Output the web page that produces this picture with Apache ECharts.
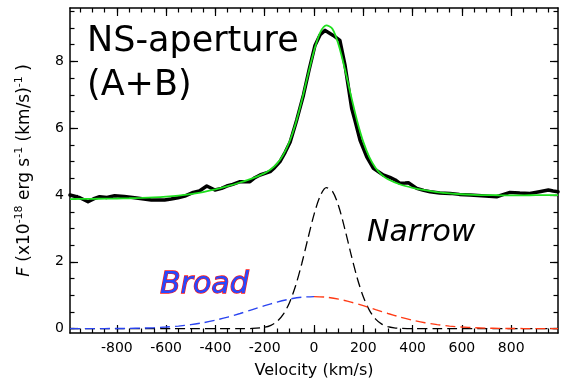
<!DOCTYPE html>
<html><head><meta charset="utf-8">
<script src="https://cdn.jsdelivr.net/npm/echarts@6/dist/echarts.min.js"></script>
<style>html,body{margin:0;padding:0;background:#fff}#c{width:568px;height:388px}</style>
</head><body><div id="c"></div>
<script>
// ---- axis ticks / labels ----
const xRange = [-990, 990];
const yRange = [-0.13, 9.6];
const xMajorTicks = [-800, -600, -400, -200, 0, 200, 400, 600, 800];
const xMinorTicks = [-950,-900,-850,-800,-750,-700,-650,-600,-550,-500,-450,-400,-350,-300,-250,-200,-150,-100,-50,0,
  50,100,150,200,250,300,350,400,450,500,550,600,650,700,750,800,850,900,950];
const yMajorTicks = [0, 2, 4, 6, 8];
const yMinorTicks = [0,0.5,1,1.5,2,2.5,3,3.5,4,4.5,5,5.5,6,6.5,7,7.5,8,8.5,9,9.5];

// ---- observed spectrum (black) ----
const obsVelocity = [-990,-950,-917,-890,-870,-840,-809,-770,-728,-690,-660,-630,-606,-580,-552,-520,-490,-465,-435,-402,
  -375,-354,-330,-300,-260,-240,-219,-178,-160,-138,-117,-97,-70,-43,-20,4,25,45,60,78,105,126,153,166,187,214,241,281,308,
  330,349,370,383,417,445,471,510,552,590,633,680,741,770,795,835,876,915,951,970,990];
const obsFlux = [4.00,3.92,3.80,3.90,3.95,3.93,3.98,3.96,3.92,3.88,3.85,3.85,3.85,3.88,3.92,3.98,4.08,4.12,4.27,4.15,
  4.20,4.27,4.32,4.40,4.40,4.52,4.60,4.70,4.82,5.00,5.28,5.58,6.25,6.99,7.75,8.48,8.80,8.93,8.86,8.78,8.63,7.88,6.59,6.24,5.64,5.14,4.80,4.60,4.53,
  4.45,4.35,4.36,4.37,4.20,4.14,4.10,4.06,4.05,4.02,4.00,3.98,3.95,4.02,4.08,4.06,4.05,4.10,4.15,4.12,4.10];

// ---- total fit (green) ----
const fitVelocity = [-990,-950,-900,-850,-800,-750,-700,-650,-600,-550,-500,-450,-400,-350,-300,-250,-200,-175,-150,-125,
  -100,-75,-50,-25,0,25,50,75,100,125,150,175,200,225,250,275,300,350,400,450,500,550,600,650,700,750,800,850,900,950,990];
const fitFlux = [3.881,3.883,3.887,3.891,3.897,3.904,3.914,3.929,3.952,3.984,4.030,4.091,4.169,4.265,4.376,4.501,4.658,4.774,4.942,5.202,
  5.588,6.129,6.814,7.582,8.314,8.866,9.080,8.973,8.494,7.780,6.977,6.220,5.593,5.130,4.811,4.605,4.472,4.316,4.218,4.145,4.090,4.050,4.024,4.007,3.998,3.994,3.993,3.993,3.995,3.997,3.999];

// ---- broad component (blue: v<=0, red: v>=0) ----
const broadBlueVelocity = [-990,-950,-900,-850,-800,-750,-700,-650,-600,-550,-500,-450,-400,-350,-300,-250,-200,-150,-100,-50,0];
const broadBlueFlux = [0.000,0.001,0.001,0.002,0.005,0.009,0.016,0.028,0.048,0.077,0.120,0.178,0.253,0.346,0.454,0.570,0.688,0.796,0.883,0.941,0.960];
const broadRedVelocity = [0,50,100,150,200,250,300,350,400,450,500,550,600,650,700,750,800,850,900,950,990];
const broadRedFlux = [0.960,0.941,0.883,0.796,0.688,0.570,0.454,0.346,0.253,0.178,0.120,0.077,0.048,0.028,0.016,0.009,0.005,0.002,0.001,0.001,0.000];

// ---- narrow component (black dashed) ----
const narrowVelocity = [-990,-500,-300,-250,-200,-175,-150,-125,-100,-75,-50,-25,0,25,50,75,100,125,150,175,200,225,250,275,300,325,350,400,500,990];
const narrowFlux = [0.000,0.000,0.000,0.006,0.042,0.100,0.215,0.426,0.771,1.277,1.936,2.688,3.414,3.969,4.222,4.112,3.665,2.989,2.232,1.525,0.953,0.546,0.286,0.137,0.060,0.024,0.009,0.001,0.000,0.000];

const zip = (xs, ys) => xs.map((x, i) => [x, ys[i]]);
const FONT = '"DejaVu Sans", sans-serif';

function xAx(pos, ticks, len, showLine, showLabel, extra) {
  return Object.assign({
    type: 'value', position: pos, min: xRange[0], max: xRange[1],
    axisLine: { show: showLine, onZero: false, lineStyle: { color: '#000', width: 1.5 } },
    axisTick: { show: true, inside: true, length: len, customValues: ticks, lineStyle: { color: '#000', width: 1.2 } },
    axisLabel: { show: showLabel, customValues: ticks, margin: 8, color: '#000', fontSize: 14, fontFamily: FONT },
    splitLine: { show: false }
  }, extra || {});
}
function yAx(pos, ticks, len, showLine, showLabel, extra) {
  return Object.assign({
    type: 'value', position: pos, min: yRange[0], max: yRange[1],
    axisLine: { show: showLine, onZero: false, lineStyle: { color: '#000', width: 1.5 } },
    axisTick: { show: true, inside: true, length: len, customValues: ticks, lineStyle: { color: '#000', width: 1.2 } },
    axisLabel: { show: showLabel, customValues: ticks, margin: 6, color: '#000', fontSize: 14, fontFamily: FONT },
    splitLine: { show: false }
  }, extra || {});
}

const chart = echarts.init(document.getElementById('c'), null, { renderer: 'canvas' });
chart.setOption({
  animation: false,
  backgroundColor: '#fff',
  grid: { left: 70, right: 10, top: 8, bottom: 55 },
  xAxis: [
    xAx('bottom', xMajorTicks, 8, true, true, {
      name: 'Velocity (km/s)', nameLocation: 'middle', nameGap: 30,
      nameTextStyle: { color: '#000', fontSize: 16, fontFamily: FONT }
    }),
    xAx('bottom', xMinorTicks, 4.5, false, false),
    xAx('top', xMajorTicks, 8, true, false),
    xAx('top', xMinorTicks, 4.5, false, false)
  ],
  yAxis: [
    yAx('left', yMajorTicks, 8, true, true, {
      name: '{i|F} (x10{s|-18} erg s{s|-1} (km/s){s|-1} )',
      nameLocation: 'middle', nameGap: 35,
      nameTextStyle: {
        color: '#000', fontSize: 17, fontFamily: FONT, lineHeight: 21,
        rich: {
          i: { fontStyle: 'italic', fontSize: 17, fontFamily: FONT, color: '#000', lineHeight: 21 },
          s: { fontSize: 11, fontFamily: FONT, color: '#000', lineHeight: 11, verticalAlign: 'top' }
        }
      }
    }),
    yAx('left', yMinorTicks, 4.5, false, false),
    yAx('right', yMajorTicks, 8, true, false),
    yAx('right', yMinorTicks, 4.5, false, false)
  ],
  series: [
    { type: 'line', name: 'Narrow', data: zip(narrowVelocity, narrowFlux), showSymbol: false, symbol: 'none', smooth: 0.3,
      lineStyle: { color: '#000', width: 1.3, type: [10, 5] }, z: 2 },
    { type: 'line', name: 'BroadBlue', data: zip(broadBlueVelocity, broadBlueFlux), showSymbol: false, symbol: 'none', smooth: 0.3,
      lineStyle: { color: '#2a44f0', width: 1.4, type: [10, 5] }, z: 3 },
    { type: 'line', name: 'BroadRed', data: zip(broadRedVelocity, broadRedFlux), showSymbol: false, symbol: 'none', smooth: 0.3,
      lineStyle: { color: '#ff3a14', width: 1.4, type: [10, 5] }, z: 3 },
    { type: 'line', name: 'Observed', data: zip(obsVelocity, obsFlux), showSymbol: false, symbol: 'none',
      lineStyle: { color: '#000', width: 3.5, join: 'round', cap: 'round' }, z: 4 },
    { type: 'line', name: 'Fit', data: zip(fitVelocity, fitFlux), showSymbol: false, symbol: 'none', smooth: 0.3,
      lineStyle: { color: '#1ee01e', width: 1.8 }, z: 5 }
  ],
  graphic: [
    { type: 'text', x: 87, y: 42, style: { text: 'NS-aperture', font: '35px ' + FONT, fill: '#000', align: 'left', verticalAlign: 'middle' } },
    { type: 'text', x: 87, y: 86, style: { text: '(A+B)', font: '35px ' + FONT, fill: '#000', align: 'left', verticalAlign: 'middle' } },
    { type: 'text', x: 367, y: 233, style: { text: 'Narrow', font: 'italic 30px ' + FONT, fill: '#000', align: 'left', verticalAlign: 'middle' } },
    { type: 'text', x: 160, y: 285, style: { text: 'Broad', font: 'italic 30px ' + FONT, fill: '#2648ff', stroke: '#ff1a1a', lineWidth: 1.3, strokeFirst: true, align: 'left', verticalAlign: 'middle' } }
  ]
});
</script>
</body></html>
